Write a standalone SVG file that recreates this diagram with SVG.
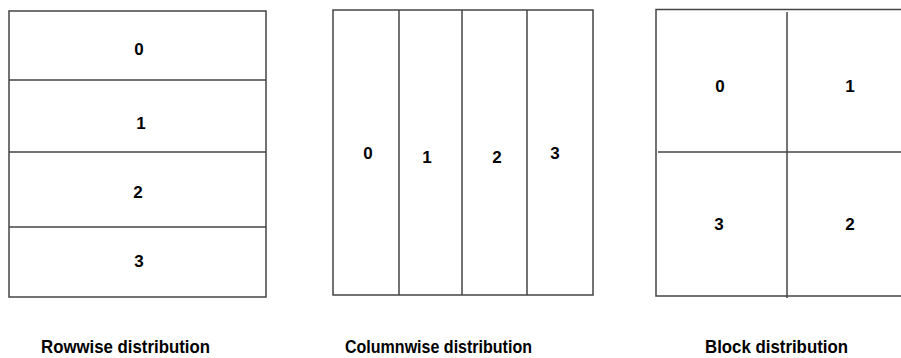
<svg xmlns="http://www.w3.org/2000/svg" width="901" height="358" viewBox="0 0 901 358">
<style>
.ln{fill:none;stroke:#444;stroke-width:1.5}
.num{font-family:"Liberation Sans",Arial,sans-serif;font-weight:bold;font-size:17px;fill:#000;text-anchor:middle;dominant-baseline:central}
.cap{font-family:"Liberation Sans",Arial,sans-serif;font-weight:bold;font-size:18px;fill:#000}
</style>
<rect width="901" height="358" fill="#fff"/>
<g id="rowwise">
<rect class="ln" x="9" y="11" width="257" height="286"/>
<g id="connectors-rowwise">
<line class="ln" x1="9" y1="80" x2="266" y2="80"/>
<line class="ln" x1="9" y1="152" x2="266" y2="152"/>
<line class="ln" x1="9" y1="227" x2="266" y2="227"/>
</g>
<text class="num" x="139" y="49">0</text>
<text class="num" x="141" y="123">1</text>
<text class="num" x="138" y="192">2</text>
<text class="num" x="139" y="261">3</text>
<text class="cap" x="41" y="353" textLength="169" lengthAdjust="spacingAndGlyphs">Rowwise distribution</text>
</g>
<g id="columnwise">
<rect class="ln" x="333" y="10" width="260" height="285"/>
<g id="connectors-columnwise">
<line class="ln" x1="399" y1="10" x2="399" y2="295"/>
<line class="ln" x1="462" y1="10" x2="462" y2="295"/>
<line class="ln" x1="527" y1="10" x2="527" y2="295"/>
</g>
<text class="num" x="368" y="153">0</text>
<text class="num" x="427" y="157">1</text>
<text class="num" x="497" y="157">2</text>
<text class="num" x="555" y="153">3</text>
<text class="cap" x="345" y="353" textLength="187" lengthAdjust="spacingAndGlyphs">Columnwise distribution</text>
</g>
<g id="block">
<path class="ln" d="M901,9.5 H656 V296 H901"/>
<g id="connectors-block">
<line class="ln" x1="787" y1="12" x2="787" y2="298"/>
<line class="ln" x1="658" y1="152" x2="901" y2="152"/>
</g>
<text class="num" x="720" y="86">0</text>
<text class="num" x="850" y="86">1</text>
<text class="num" x="719" y="224">3</text>
<text class="num" x="850" y="224">2</text>
<text class="cap" x="705" y="353" textLength="143" lengthAdjust="spacingAndGlyphs">Block distribution</text>
</g>
</svg>
